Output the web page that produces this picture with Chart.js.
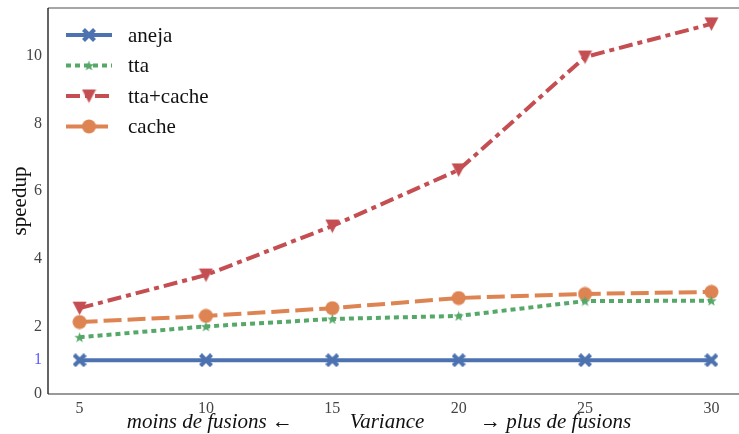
<!DOCTYPE html>
<html lang="fr">
<head>
<meta charset="UTF-8">
<title>Speedup</title>
<script src="https://cdn.jsdelivr.net/npm/chart.js"></script>
<style>
    body { margin: 0; padding: 0; background: #fff; overflow: hidden; }
    #wrap { position: relative; width: 743px; height: 434px; }
</style>
</head>
<body>
<div id="wrap"><canvas id="speedChart" width="743" height="434"></canvas></div>
<script>
    // data
    const variances = [5, 10, 15, 20, 25, 30];
    const aneja = [1, 1, 1, 1, 1, 1];
    const tta = [1.68, 2.0, 2.22, 2.31, 2.75, 2.76];
    const ttaCache = [2.54, 3.52, 4.97, 6.63, 9.97, 10.95];
    const cache = [2.13, 2.31, 2.54, 2.84, 2.96, 3.02];
    const yTicks = [0, 1, 2, 4, 6, 8, 10];
    const xTicks = [5, 10, 15, 20, 25, 30];

    const serif = '"Liberation Serif", "DejaVu Serif", serif';

    // little canvases used as point markers
    function marker(shape, color, size) {
        const c = document.createElement('canvas');
        c.width = size; c.height = size;
        const g = c.getContext('2d');
        const m = size / 2;
        g.fillStyle = color;
        g.strokeStyle = color;
        g.beginPath();
        if (shape === 'circle') {
            g.arc(m, m, m - 0.5, 0, Math.PI * 2);
            g.fill();
        } else if (shape === 'x') {
            g.lineWidth = size * 0.3;
            g.lineCap = 'butt';
            g.moveTo(1.5, 1.5); g.lineTo(size - 1.5, size - 1.5);
            g.moveTo(size - 1.5, 1.5); g.lineTo(1.5, size - 1.5);
            g.stroke();
        } else if (shape === 'tri') {
            g.moveTo(0.5, 1); g.lineTo(size - 0.5, 1); g.lineTo(m, size - 0.5);
            g.closePath();
            g.fill();
        } else if (shape === 'star') {
            for (let i = 0; i < 10; i++) {
                const r = i % 2 === 0 ? m : m * 0.42;
                const a = -Math.PI / 2 + i * Math.PI / 5;
                const px = m + r * Math.cos(a), py = m + r * Math.sin(a) + 0.5;
                if (i === 0) g.moveTo(px, py); else g.lineTo(px, py);
            }
            g.closePath();
            g.fill();
        }
        return c;
    }

    const series = [
        { label: 'aneja', values: aneja, color: '#4c72b0', dash: [], marker: marker('x', '#4c72b0', 14) },
        { label: 'tta', values: tta, color: '#55a868', dash: [5, 4], marker: marker('star', '#55a868', 11) },
        { label: 'tta+cache', values: ttaCache, color: '#c44e52', dash: [14, 5, 5, 5], marker: marker('tri', '#c44e52', 15) },
        { label: 'cache', values: cache, color: '#dd8452', dash: [18, 6], marker: marker('circle', '#dd8452', 15) }
    ];

    // legend + axis titles + frame, drawn by hand to look like the matplotlib figure
    const decor = {
        id: 'decor',
        afterDraw(chart) {
            const ctx = chart.ctx;
            const a = chart.chartArea;
            ctx.save();
            // frame
            ctx.lineWidth = 1.3;
            ctx.strokeStyle = '#888';
            ctx.beginPath(); ctx.moveTo(a.left, a.top); ctx.lineTo(a.right, a.top); ctx.stroke();
            ctx.strokeStyle = '#777';
            ctx.beginPath(); ctx.moveTo(a.left, a.bottom); ctx.lineTo(a.right, a.bottom); ctx.stroke();
            ctx.strokeStyle = '#111';
            ctx.beginPath(); ctx.moveTo(a.left, a.top); ctx.lineTo(a.left, a.bottom); ctx.stroke();

            // legend
            series.forEach((s, i) => {
                const y = 35 + i * 30.5;
                ctx.strokeStyle = s.color;
                ctx.lineWidth = 4;
                ctx.setLineDash(s.dash);
                ctx.beginPath(); ctx.moveTo(66, y); ctx.lineTo(112, y); ctx.stroke();
                ctx.setLineDash([]);
                const mk = s.marker;
                ctx.drawImage(mk, 89 - mk.width / 2, y - mk.height / 2);
                ctx.fillStyle = '#111';
                ctx.font = '21px ' + serif;
                ctx.textAlign = 'left';
                ctx.textBaseline = 'middle';
                ctx.fillText(s.label, 128, y + 1);
            });

            // axis titles
            ctx.fillStyle = '#111';
            ctx.font = 'italic 21px ' + serif;
            ctx.textBaseline = 'middle';
            ctx.textAlign = 'right';
            ctx.fillText('moins de fusions \u2190', 293, 422);
            ctx.textAlign = 'center';
            ctx.fillText('Variance', 387, 422);
            ctx.textAlign = 'left';
            ctx.fillText('\u2192 plus de fusions', 480, 422);
            ctx.font = '21px ' + serif;
            ctx.textAlign = 'center';
            ctx.translate(20, 201);
            ctx.rotate(-Math.PI / 2);
            ctx.fillText('speedup', 0, 0);
            ctx.restore();
        }
    };

    const ctx = document.getElementById('speedChart').getContext('2d');
    new Chart(ctx, {
        type: 'line',
        data: {
            datasets: series.map(s => ({
                label: s.label,
                data: variances.map((v, i) => ({ x: v, y: s.values[i] })),
                borderColor: s.color,
                backgroundColor: s.color,
                borderWidth: 4,
                borderDash: s.dash,
                borderCapStyle: 'butt',
                pointStyle: s.marker,
                pointRadius: 7,
                pointHoverRadius: 7,
                tension: 0,
                fill: false
            }))
        },
        plugins: [decor],
        options: {
            responsive: false,
            animation: false,
            layout: { autoPadding: false, padding: { top: 8, right: 0, left: 0, bottom: 0 } },
            plugins: { legend: { display: false }, tooltip: { enabled: false } },
            scales: {
                x: {
                    type: 'linear',
                    min: 3.75,
                    max: 31.25,
                    afterBuildTicks: s => { s.ticks = xTicks.map(v => ({ value: v })); },
                    afterFit: s => { s.height = 40; s.paddingLeft = 0; s.paddingRight = 0; },
                    grid: { display: false, drawTicks: true, tickLength: 4, tickColor: '#777' },
                    border: { display: false },
                    ticks: { color: '#444', font: { family: serif, size: 16 }, padding: 1, maxRotation: 0 }
                },
                y: {
                    min: 0,
                    max: 11.42,
                    afterBuildTicks: s => { s.ticks = yTicks.map(v => ({ value: v })); },
                    afterFit: s => { s.width = 48; s.paddingTop = 0; s.paddingBottom = 0; },
                    grid: { display: false, drawTicks: true, tickLength: 4, tickColor: '#333' },
                    border: { display: false },
                    ticks: {
                        color: c => c.tick && c.tick.value === 1 ? '#5a5aff' : '#444',
                        font: { family: serif, size: 16 },
                        padding: 2
                    }
                }
            }
        }
    });
</script>
</body>
</html>
